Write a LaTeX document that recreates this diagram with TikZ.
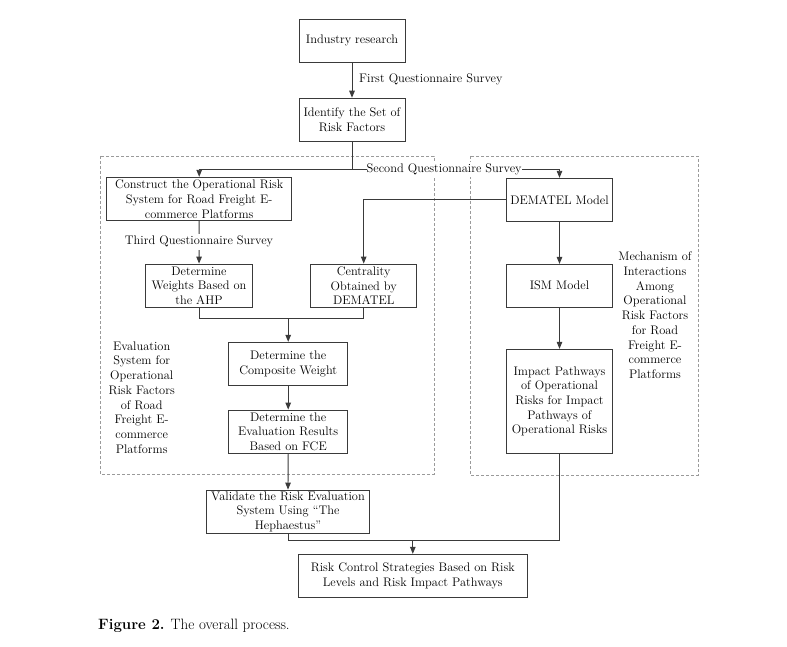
\documentclass[tikz,border=0pt]{standalone}
\usetikzlibrary{arrows.meta}
\definecolor{edge}{HTML}{3A3A3A}
\definecolor{dash}{HTML}{9A9A9A}
\tikzset{
  box/.style={draw=edge, line width=0.9pt, fill=white, align=center, inner xsep=2pt, inner ysep=1pt,
    font=\fontsize{12.4}{14.7}\selectfont},
  lbl/.style={align=center, inner sep=0pt, font=\fontsize{12.4}{14.7}\selectfont},
  conn/.style={draw=edge, line width=0.9pt},
  arr/.style={conn, -{Triangle[length=7pt,width=5.5pt]}},
  group/.style={draw=dash, line width=0.8pt, dash pattern=on 3pt off 2pt}
}
\begin{document}
\begin{tikzpicture}[x=1pt,y=-1pt]
\fill[white] (0,0) rectangle (787,647);
\useasboundingbox (0,0) rectangle (787,647);
% groups
\draw[group] (100,156) rectangle (434,474);
\draw[group] (470,156) rectangle (698,475);
% nodes
\node[box, minimum width=106pt, minimum height=43pt] (ind) at (352,40.8) {Industry research};
\node[box, minimum width=106pt, minimum height=43pt] (iden) at (352,119.7) {Identify the Set of\\Risk Factors};
\node[box, minimum width=185pt, minimum height=43.4pt] (cons) at (199.2,199) {Construct the Operational Risk\\System for Road Freight E-\\commerce Platforms};
\node[box, minimum width=105.6pt, minimum height=43pt] (dem) at (559.5,199.8) {DEMATEL Model};
\node[box, minimum width=106.6pt, minimum height=43.3pt] (ahp) at (199,285.7) {Determine\\Weights Based on\\the AHP};
\node[box, minimum width=106pt, minimum height=43.3pt] (cen) at (363.7,285.7) {Centrality\\Obtained by\\DEMATEL};
\node[box, minimum width=105.6pt, minimum height=42.7pt] (ism) at (559.5,285.7) {ISM Model};
\node[box, minimum width=119pt, minimum height=43.4pt] (comp) at (288.2,364) {Determine the\\Composite Weight};
\node[box, minimum width=119pt, minimum height=43.3pt] (fce) at (288.2,431.7) {Determine the\\Evaluation Results\\Based on FCE};
\node[box, minimum width=105.6pt, minimum height=104pt] (imp) at (559.5,401.3) {Impact Pathways\\of Operational\\Risks for Impact\\Pathways of\\Operational Risks};
\node[box, minimum width=162.6pt, minimum height=43.3pt] (val) at (288,511.7) {Validate the Risk Evaluation\\System Using ``The\\Hephaestus''};
\node[box, minimum width=228.3pt, minimum height=43.4pt] (risk) at (412.8,576) {Risk Control Strategies Based on Risk\\Levels and Risk Impact Pathways};
% side labels
\node[lbl] (evl) at (141.7,397.5) {Evaluation\\System for\\Operational\\Risk Factors\\of Road\\Freight E-\\commerce\\Platforms};
\node[lbl] (mech) at (655,315.3) {Mechanism of\\Interactions\\Among\\Operational\\Risk Factors\\for Road\\Freight E-\\commerce\\Platforms};
% coordinates
\coordinate (s2) at (352,169.3);
\coordinate (j1) at (288.2,318.3);
\coordinate (j2) at (412.8,540);
% connectors
\draw[arr] (ind) -- (iden);
\draw[conn] (iden) -- (s2);
\draw[arr] (s2) -| (cons.north);
\draw[arr] (s2) -| (dem.north);
\draw[arr] (cons) -- (ahp);
\draw[arr] (dem.west) -| (cen.north);
\draw[conn] (ahp.south) |- (j1) -| (cen.south);
\draw[arr] (j1) -- (comp.north);
\draw[arr] (comp) -- (fce);
\draw[arr] (fce.south) -- (val.north);
\draw[arr] (dem) -- (ism);
\draw[arr] (ism) -- (imp);
\draw[conn] (val.south) |- (j2);
\draw[conn] (imp.south) |- (j2);
\draw[arr] (j2) -- (risk.north);
% connector labels
\node[lbl, anchor=west] (q1) at (359,79) {First Questionnaire Survey};
\node[lbl, anchor=west, fill=white, inner ysep=2pt] (q2) at (366.5,169.3) {Second Questionnaire Survey};
\node[lbl, fill=white, inner ysep=2.5pt] (q3) at (199,241.7) {Third Questionnaire Survey};
% caption
\node[anchor=base west, inner sep=0pt, font=\fontsize{15}{18}\selectfont] (cap) at (98,629) {\textbf{Figure 2.} The overall process.};
\end{tikzpicture}
\end{document}
